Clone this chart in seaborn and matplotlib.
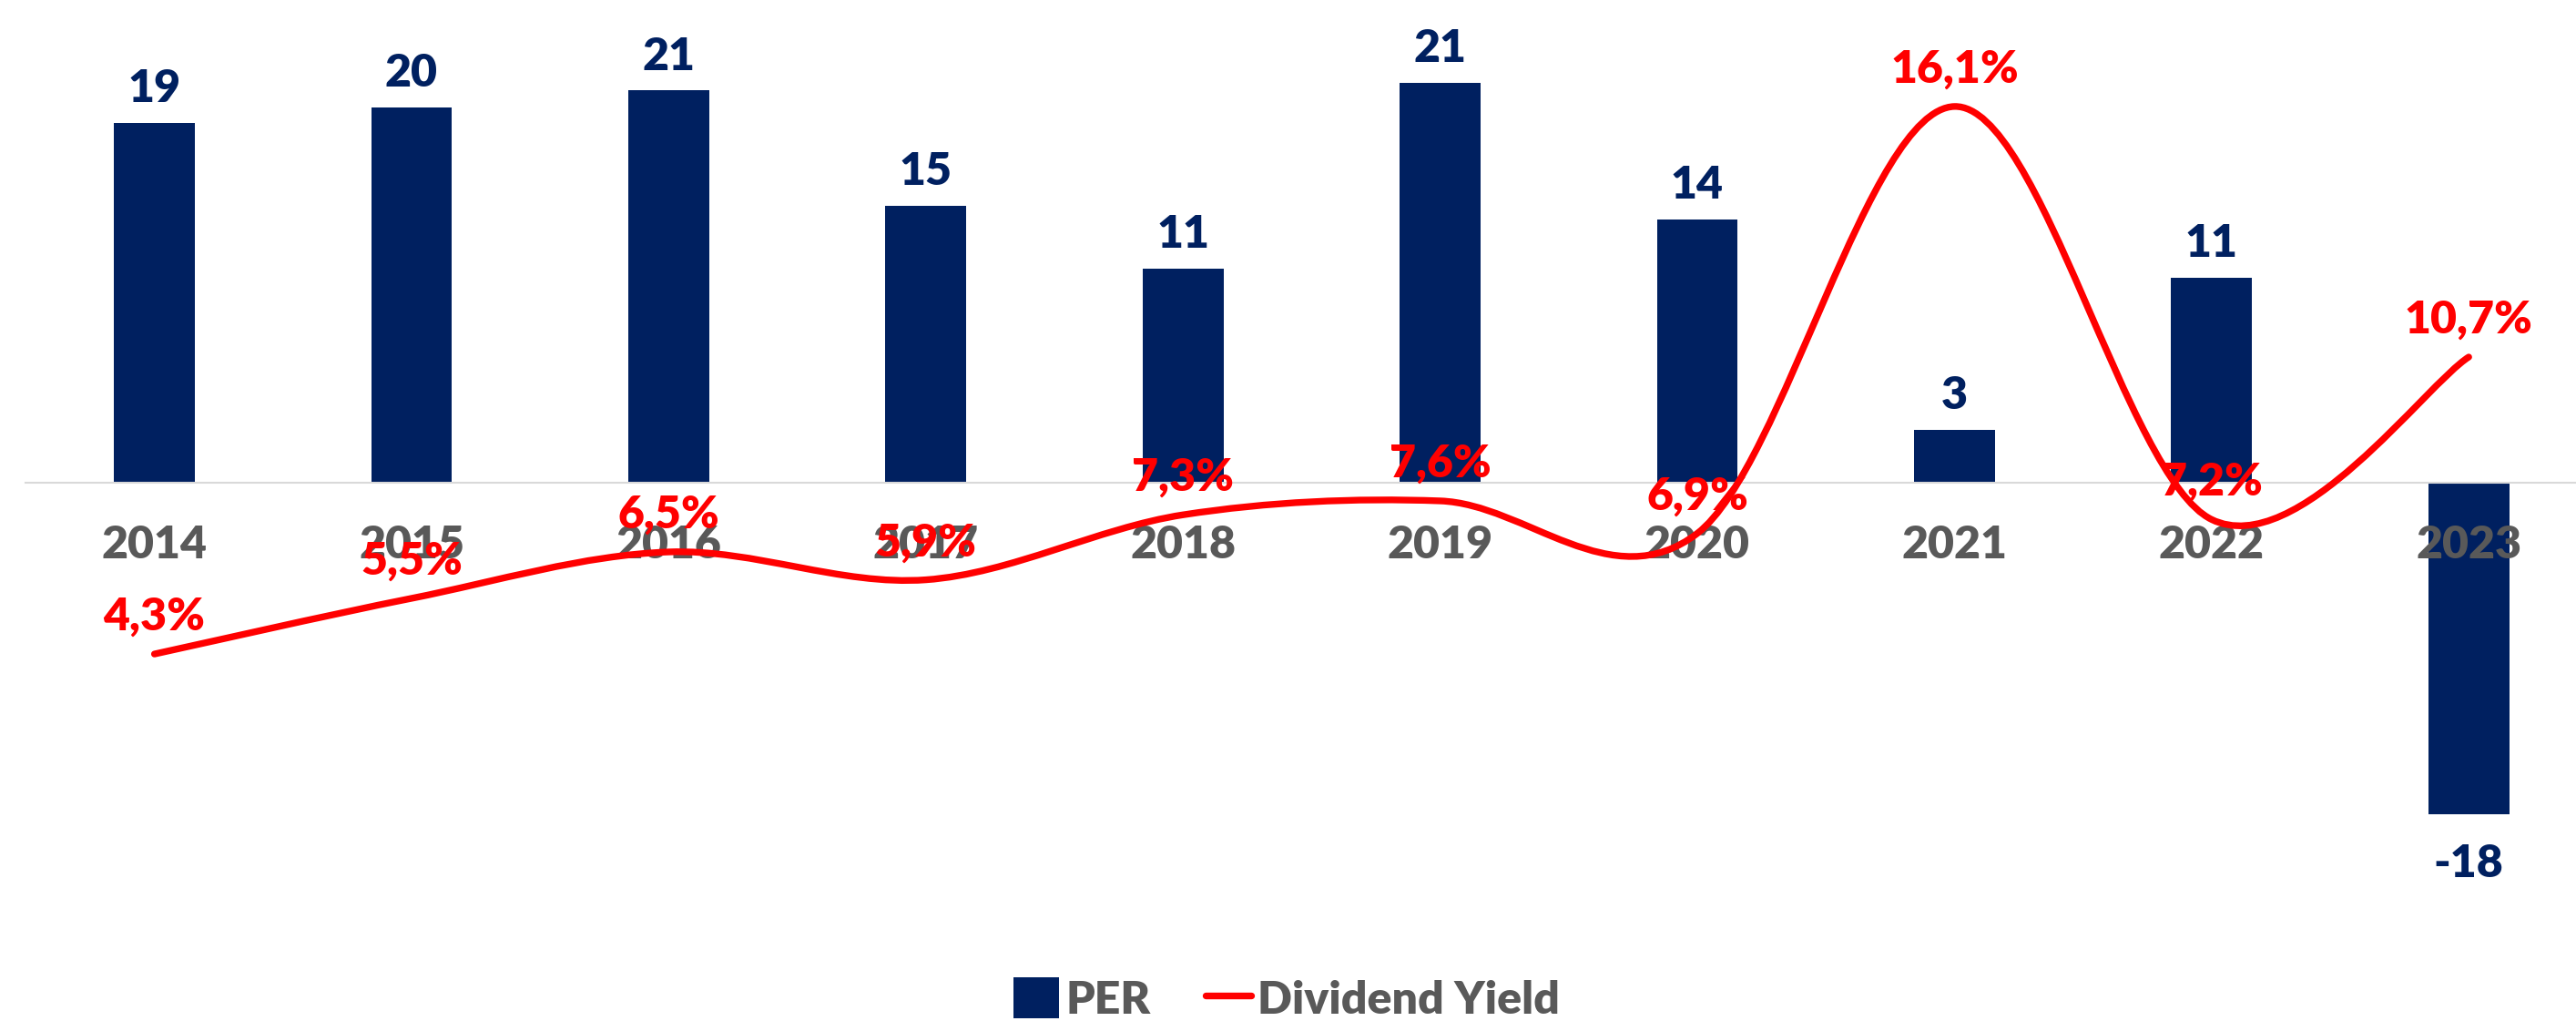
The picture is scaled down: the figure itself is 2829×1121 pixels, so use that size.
import numpy as np
import pandas as pd
import matplotlib
matplotlib.use("Agg")
import matplotlib.pyplot as plt
from matplotlib.path import Path
from matplotlib.patches import PathPatch, Patch
from matplotlib.lines import Line2D
import seaborn as sns

# ---- data ----
years = ["2014", "2015", "2016", "2017", "2018", "2019", "2020", "2021", "2022", "2023"]
per = [19.0, 19.8, 20.7, 14.6, 11.3, 21.1, 13.9, 2.8, 10.8, -17.5]
per_labels = ["19", "20", "21", "15", "11", "21", "14", "3", "11", "-18"]
div_yield = [4.3, 5.5, 6.5, 5.9, 7.3, 7.6, 6.9, 16.1, 7.2, 10.7]

NAVY = "#002060"
RED = "#FF0000"
GRAY = "#595959"
WEIGHT = "heavy"

sns.set_theme(style="white")
plt.rcParams["font.family"] = ["Lato", "DejaVu Sans"]

W, H = 2829, 1121
fig = plt.figure(figsize=(W / 100, H / 100), dpi=100)
ax = fig.add_axes([28.4 / W, 1 - 987.6 / H, 2824 / W, 956.8 / H])

df = pd.DataFrame({"Year": years, "PER": per})
sns.barplot(data=df, x="Year", y="PER", color=NAVY, width=0.315, ax=ax,
            saturation=1, edgecolor="none")
ax.set_xlim(-0.5, 9.5)
ax.set_ylim(-22, 24)
ax.set_axisbelow(False)

for sp in ["top", "right", "left"]:
    ax.spines[sp].set_visible(False)
ax.spines["bottom"].set_position(("data", 0))
ax.spines["bottom"].set_color("#D9D9D9")
ax.spines["bottom"].set_linewidth(1.5)
ax.yaxis.set_visible(False)
ax.set_xlabel("")
ax.set_ylabel("")
ax.tick_params(axis="x", length=0, pad=33, labelsize=36, labelcolor=GRAY)
for lab in ax.get_xticklabels():
    lab.set_fontweight(WEIGHT)

# PER labels
for i, (v, t) in enumerate(zip(per, per_labels)):
    off = 16.5 if v >= 0 else -50
    ax.annotate(t, (i, v), xytext=(0, off), textcoords="offset points",
                ha="center", va="baseline", fontsize=36, fontweight=WEIGHT,
                color=NAVY)

# secondary axis: smoothed dividend yield line (Bezier through data points)
ax2 = ax.twinx()
ax2.set_ylim(-0.99, 17.79)
ax2.set_xlim(-0.5, 9.5)
ax2.yaxis.set_visible(False)
for sp in ax2.spines.values():
    sp.set_visible(False)

pts = np.column_stack([np.arange(len(div_yield), dtype=float), np.array(div_yield)])
n = len(pts)
verts = [tuple(pts[0])]
codes = [Path.MOVETO]
for i in range(n - 1):
    p_prev = pts[i - 1] if i > 0 else pts[i]
    p0 = pts[i]
    p1 = pts[i + 1]
    p_next = pts[i + 2] if i + 2 < n else pts[i + 1]
    c1 = p0 + (p1 - p_prev) / 6.0
    c2 = p1 - (p_next - p0) / 6.0
    verts += [tuple(c1), tuple(c2), tuple(p1)]
    codes += [Path.CURVE4] * 3
path = Path(verts, codes)
ax2.add_patch(PathPatch(path, facecolor="none", edgecolor=RED, lw=5.3,
                        capstyle="round", joinstyle="round"))

for i, v in enumerate(div_yield):
    t = f"{v:.1f}".replace(".", ",") + "%"
    ax2.annotate(t, (i, v), xytext=(0, 19), textcoords="offset points",
                 ha="center", va="baseline", fontsize=36, fontweight=WEIGHT,
                 color=RED)

# legend
handles = [Patch(facecolor=NAVY, edgecolor="none", label="PER"),
           Line2D([0], [0], color=RED, lw=5.3, solid_capstyle="round", label="Dividend Yield")]
leg = fig.legend(handles=handles, loc="center", ncol=2,
                 bbox_to_anchor=(1413 / W, 1 - 1097 / H), frameon=False,
                 prop={"size": 36, "weight": WEIGHT}, handlelength=1.0,
                 handleheight=1.0, handletextpad=0.15, columnspacing=1.2)
for txt in leg.get_texts():
    txt.set_color(GRAY)

fig.savefig("out.png", dpi=100, facecolor="white")
